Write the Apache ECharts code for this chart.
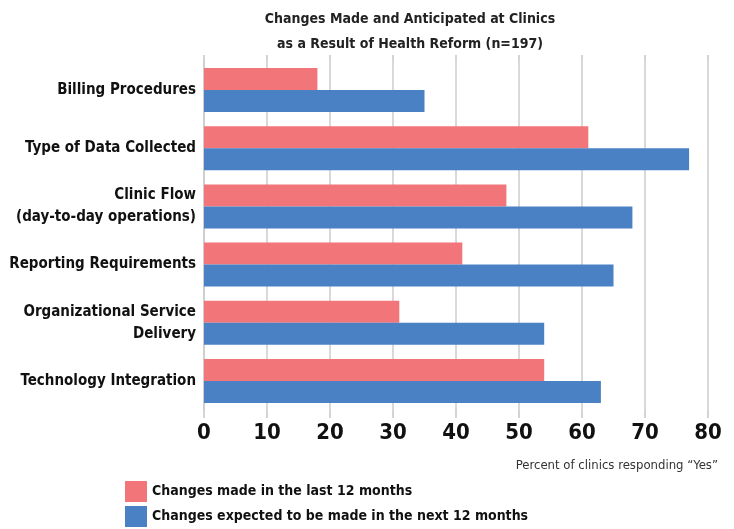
<!DOCTYPE html>
<html>
<head>
<meta charset="utf-8">
<script src="https://cdn.jsdelivr.net/npm/echarts@6/dist/echarts.min.js"></script>
<style>
  html, body { margin: 0; padding: 0; background: #fff; }
  #chart { width: 734px; height: 529px; }
</style>
</head>
<body>
<div id="chart"></div>
<script>
// categories top to bottom
const categories = [
  'Billing Procedures',
  'Type of Data Collected',
  'Clinic Flow\n(day-to-day operations)',
  'Reporting Requirements',
  'Organizational Service\nDelivery',
  'Technology Integration'
];
const lastYear = [18, 61, 48, 41, 31, 54];
const nextYear = [35, 77, 68, 65, 54, 63];
const seriesNames = [
  'Changes made in the last 12 months',
  'Changes expected to be made in the next 12 months'
];

const FONT = '"DejaVu Sans Condensed", "Liberation Sans Narrow", "Roboto", sans-serif';

let mychart = echarts.init(document.getElementById('chart'));
mychart.setOption({
  animation: false,
  title: {
    text: 'Changes Made and Anticipated at Clinics\nas a Result of Health Reform (n=197)',
    left: 405,
    textAlign: 'center',
    top: 2,
    textStyle: { fontFamily: FONT, fontWeight: 'bold', fontSize: 14, lineHeight: 25, color: '#222' }
  },
  legend: {
    data: seriesNames,
    orient: 'vertical',
    left: 125,
    top: 481,
    padding: 0,
    itemWidth: 22,
    itemHeight: 21,
    itemGap: 4,
    icon: 'rect',
    textStyle: { fontFamily: FONT, fontWeight: 'bold', fontSize: 14, color: '#111' }
  },
  grid: { left: 204, right: 26, top: 61, bottom: 119, outerBoundsMode: 'none' },
  xAxis: [{
    type: 'value',
    min: 0, max: 80, interval: 10,
    position: 'bottom',
    axisLine: { show: false },
    axisTick: { show: true, length: 8, lineStyle: { color: '#d4d4d4', width: 2 } },
    splitLine: { show: true, lineStyle: { color: '#d9d9d9', width: 2 } },
    axisLabel: { margin: 12, fontFamily: FONT, fontWeight: 'bold', fontSize: 22, color: '#111' },
    name: 'Percent of clinics responding \u201cYes\u201d',
    nameLocation: 'end',
    nameGap: 10,
    nameTextStyle: {
      fontFamily: FONT, fontSize: 13, color: '#333',
      align: 'right', verticalAlign: 'top', padding: [49, 0, 0, 0]
    }
  }, {
    type: 'value',
    min: 0, max: 80, interval: 10,
    position: 'top',
    axisLine: { show: false },
    axisTick: { show: true, length: 6, lineStyle: { color: '#d4d4d4', width: 2 } },
    splitLine: { show: false },
    axisLabel: { show: false }
  }],
  yAxis: {
    type: 'category',
    inverse: true,
    data: categories,
    axisLine: { show: true, lineStyle: { color: '#cfcfcf', width: 2 } },
    axisTick: { show: false },
    axisLabel: {
      margin: 8, fontFamily: FONT, fontWeight: 'bold', fontSize: 15, lineHeight: 22, color: '#111'
    }
  },
  series: [
    {
      name: seriesNames[0],
      type: 'bar',
      data: lastYear,
      barWidth: 22,
      barGap: '0%',
      itemStyle: { color: '#f2757a' }
    },
    {
      name: seriesNames[1],
      type: 'bar',
      data: nextYear,
      barWidth: 22,
      itemStyle: { color: '#4a80c4' }
    }
  ]
});
</script>
</body>
</html>
